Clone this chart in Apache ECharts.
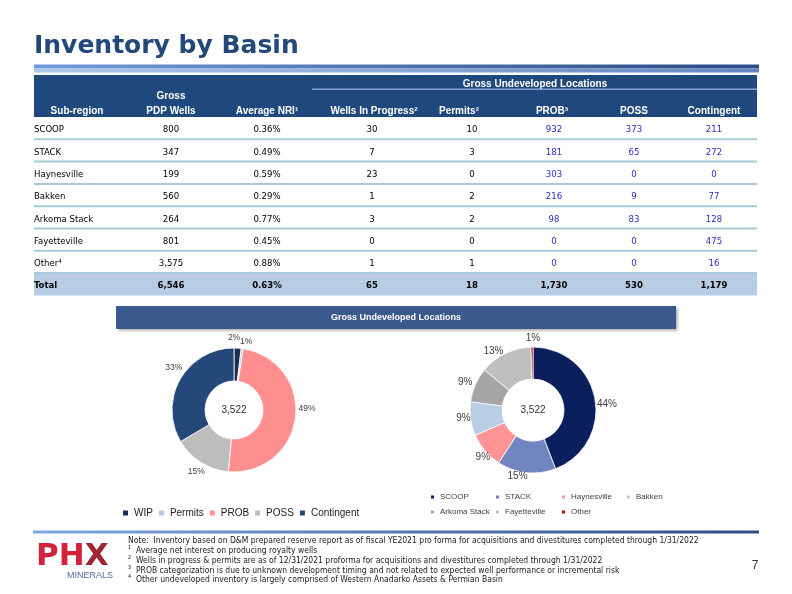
<!DOCTYPE html>
<html><head><meta charset="utf-8">
<script src="https://cdn.jsdelivr.net/npm/echarts@6/dist/echarts.min.js"></script>
<style>html,body{margin:0;padding:0;background:#fff}#c{width:792px;height:594px}</style>
</head><body><div id="c"></div><script>
// ---------------- DATA ----------------
const subRegions = ['SCOOP', 'STACK', 'Haynesville', 'Bakken', 'Arkoma Stack', 'Fayetteville', 'Other⁴'];
const pdpWells   = [800, 347, 199, 560, 264, 801, 3575];
const avgNri     = [0.36, 0.49, 0.59, 0.29, 0.77, 0.45, 0.88];
const wip        = [30, 7, 23, 1, 3, 0, 1];
const permits    = [10, 3, 0, 2, 2, 0, 1];
const prob       = [932, 181, 303, 216, 98, 0, 0];
const poss       = [373, 65, 0, 9, 83, 0, 0];
const contingent = [211, 272, 0, 77, 128, 475, 16];
const totalsRow  = [6546, 0.63, 65, 18, 1730, 530, 1179];

const headerLabels = ['Sub-region', 'PDP Wells', 'Average NRI¹', 'Wells In Progress²', 'Permits²', 'PROB³', 'POSS', 'Contingent'];

const typeNames  = ['WIP', 'Permits', 'PROB', 'POSS', 'Contingent'];
const typeValues = [65, 18, 1730, 530, 1179];

const basinNames  = ['SCOOP', 'STACK', 'Haynesville', 'Bakken', 'Arkoma Stack', 'Fayetteville', 'Other'];
const basinValues = [1556, 528, 326, 305, 314, 475, 18];

const notes = [
  ['', 'Note:  Inventory based on D&M prepared reserve report as of fiscal YE2021 pro forma for acquisitions and divestitures completed through 1/31/2022'],
  ['¹', 'Average net interest on producing royalty wells'],
  ['²', 'Wells in progress & permits are as of 12/31/2021 proforma for acquisitions and divestitures completed through 1/31/2022'],
  ['³', 'PROB categorization is due to unknown development timing and not related to expected well performance or incremental risk'],
  ['⁴', 'Other undeveloped inventory is largely comprised of Western Anadarko Assets & Permian Basin']
];

// ---------------- STYLE / LAYOUT ----------------
const typeColors  = ['#1B2E52', '#B4C7E7', '#FF8F8F', '#BDBDBD', '#24487A'];
const basinColors = ['#0B1F5C', '#7185C1', '#FF9494', '#B9CDE5', '#A6A6A6', '#BFBFBF', '#C00000'];

const ARIAL = '"Liberation Sans", Arial, sans-serif';
const TAHOMA = '"DejaVu Sans Condensed", "DejaVu Sans", sans-serif';
const VERDANA = '"DejaVu Sans", Verdana, sans-serif';

const colX = [34, 171, 267, 372, 472, 554, 634, 714];
const headX = [77, 171, 267, 374, 459, 552, 634, 714];
const rowTop = 117, rowH = 22.3;

const leftPie  = {cx: 234, cy: 410, r0: 29, r: 62, gap: 3, font: 8.5,
  nudge: [[-4, -3], [3, 1], [0, -10], [0, 2], [4, -6]]};
const rightPie = {cx: 533, cy: 410, r0: 31, r: 63, gap: 3, font: 10,
  nudge: [[-1, 8], [-8, -4], [6, 0], [3, -2], [0, 2], [-8, 6], [1, -1]]};

function fmt(n) { return String(n).replace(/\B(?=(\d{3})+(?!\d))/g, ','); }
function pct(n) { return n.toFixed(2) + '%'; }

const G = [];
function T(x, y, text, o) {
  o = o || {};
  G.push({type: 'text', x: x, y: y, z: 10, silent: true, style: {
    text: text, fill: o.fill || '#000', fontSize: o.size || 10, fontFamily: o.family || ARIAL,
    fontWeight: o.weight || 'normal', align: o.align || 'center', verticalAlign: 'middle', rich: o.rich
  }});
}
function R(x, y, w, h, fill, extra) {
  G.push(Object.assign({type: 'rect', silent: true, shape: {x: x, y: y, width: w, height: h}, style: Object.assign({fill: fill}, extra || {})}));
}
function grad(c0, c1) { return new echarts.graphic.LinearGradient(0, 0, 1, 0, [{offset: 0, color: c0}, {offset: 1, color: c1}]); }

// Title
T(34, 46, 'Inventory by Basin', {size: 25, family: VERDANA, weight: 'bold', fill: '#23487A', align: 'left'});
// top decorative bar
R(34, 64.5, 725, 4, grad('#6E9CDD', '#2A4B83'));
R(34, 68.5, 725, 4, grad('#AFC9EC', '#6286C2'));
// header box
R(34, 75, 723, 42, '#1F497C');
R(312, 88.5, 445, 1.6, '#86A4D3');
T(535, 84, 'Gross Undeveloped Locations', {size: 10, weight: 'bold', fill: '#fff'});
T(headX[1], 96, 'Gross', {size: 10, weight: 'bold', fill: '#fff'});
headerLabels.forEach(function (h, i) {
  T(headX[i], 111, h, {size: 10, weight: 'bold', fill: '#fff'});
});
// body rows
const blue = '#2C2CC2';
subRegions.forEach(function (s, i) {
  const yc = rowTop + rowH * i + 13;
  T(colX[0], yc, s, {family: TAHOMA, size: 9.5, align: 'left'});
  T(colX[1], yc, fmt(pdpWells[i]), {family: TAHOMA, size: 9.5});
  T(colX[2], yc, pct(avgNri[i]), {family: TAHOMA, size: 9.5});
  T(colX[3], yc, fmt(wip[i]), {family: TAHOMA, size: 9.5});
  T(colX[4], yc, fmt(permits[i]), {family: TAHOMA, size: 9.5});
  T(colX[5], yc, fmt(prob[i]), {family: TAHOMA, size: 9.5, fill: blue});
  T(colX[6], yc, fmt(poss[i]), {family: TAHOMA, size: 9.5, fill: blue});
  T(colX[7], yc, fmt(contingent[i]), {family: TAHOMA, size: 9.5, fill: blue});
  R(34, rowTop + rowH * (i + 1) - 1, 723, 2, '#A6CAD9');
});
// total row
const totY = rowTop + rowH * 7;
R(34, totY + 1, 723, 21.5, '#B8CCE4');
const ty = totY + 12;
T(colX[0], ty, 'Total', {family: TAHOMA, size: 9.5, weight: 'bold', align: 'left'});
T(colX[1], ty, fmt(totalsRow[0]), {family: TAHOMA, size: 9.5, weight: 'bold'});
T(colX[2], ty, pct(totalsRow[1]), {family: TAHOMA, size: 9.5, weight: 'bold'});
for (let k = 2; k < 7; k++) T(colX[k + 1], ty, fmt(totalsRow[k]), {family: TAHOMA, size: 9.5, weight: 'bold'});

// banner
R(116, 306, 560, 23, '#3A5A8B', {shadowBlur: 3, shadowOffsetX: 1.5, shadowOffsetY: 1.5, shadowColor: 'rgba(0,0,0,0.35)'});
T(396, 317.5, 'Gross Undeveloped Locations', {size: 9, weight: 'bold', fill: '#fff'});

// donut centre labels
function sum(a) { return a.reduce(function (s, v) { return s + v; }, 0); }
T(leftPie.cx, leftPie.cy, fmt(sum(typeValues)), {size: 10, fill: '#333'});
T(rightPie.cx, rightPie.cy, fmt(sum(basinValues)), {size: 10, fill: '#333'});

// footer bar
R(33, 530.5, 726, 3, grad('#7FA8E0', '#2B4C80'));
// logo
G.push({type: 'text', x: 36, y: 557, z: 10, silent: true, style: {
  text: '{a|PH}{b|X}', align: 'left', verticalAlign: 'middle',
  rich: {a: {fontSize: 31, fontWeight: 'bold', fontFamily: VERDANA, fill: '#D3223C', color: '#D3223C'},
         b: {fontSize: 31, fontWeight: 'bold', fontFamily: VERDANA, fill: '#9E2632', color: '#9E2632'}}
}});
T(113, 575.5, 'MINERALS', {size: 9, fill: '#4E6E9F', align: 'right'});
// notes
const noteY = [541, 551, 561, 570.5, 580];
const noteSize = 8.5;
notes.forEach(function (n, i) {
  if (n[0]) {
    T(128, noteY[i] - 1, n[0], {family: TAHOMA, size: noteSize, fill: '#222', align: 'left'});
    T(136, noteY[i], n[1], {family: TAHOMA, size: noteSize, fill: '#222', align: 'left'});
  } else {
    T(128, noteY[i], n[1], {family: TAHOMA, size: noteSize, fill: '#222', align: 'left'});
  }
});
T(755, 566, '7', {size: 12, fill: '#333'});

// ---------------- PIES ----------------
function labelPlacer(values, P) {
  const total = sum(values);
  const starts = [];
  let acc = 0;
  values.forEach(function (v) { starts.push(acc); acc += v; });
  return function (params) {
    const i = params.dataIndex;
    const mid = (starts[i] + values[i] / 2) / total * Math.PI * 2;
    const dx = Math.sin(mid), dy = -Math.cos(mid);
    const w = params.labelRect.width, h = params.labelRect.height;
    const ext = Math.min(w / 2 / Math.max(Math.abs(dx), 1e-6), h / 2 / Math.max(Math.abs(dy), 1e-6));
    const d = P.r + P.gap + ext;
    const n = P.nudge[i] || [0, 0];
    return {x: P.cx + d * dx + n[0], y: P.cy + d * dy + n[1], align: 'center', verticalAlign: 'middle'};
  };
}
function pieSeries(names, values, colors, P) {
  return {
    type: 'pie', center: [P.cx, P.cy], radius: [P.r0, P.r], startAngle: 90, clockwise: true,
    avoidLabelOverlap: false, percentPrecision: 0, silent: true,
    itemStyle: {borderColor: '#fff', borderWidth: 0.8},
    label: {show: true, position: 'outside', formatter: '{d}%', fontSize: P.font, fontFamily: ARIAL, color: '#404040'},
    labelLine: {show: false, length: 0, length2: 0},
    labelLayout: labelPlacer(values, P),
    emphasis: {disabled: true},
    data: names.map(function (n, i) { return {name: n, value: values[i], itemStyle: {color: colors[i]}}; })
  };
}

const rightLegendCols = [[0, 4], [1, 5], [2, 6], [3]];
const rightLegendLeft = [424, 489, 555, 620];
const legends = [{
  left: 116, top: 502, orient: 'horizontal', icon: 'rect', itemWidth: 7, itemHeight: 7, itemGap: 4,
  selectedMode: false, textStyle: {fontSize: 10, fontFamily: ARIAL, color: '#222', lineHeight: 12},
  data: typeNames
}];
rightLegendCols.forEach(function (col, c) {
  legends.push({
    left: rightLegendLeft[c], top: 487, orient: 'vertical', icon: 'rect', itemWidth: 5, itemHeight: 5, itemGap: 5,
    selectedMode: false, textStyle: {fontSize: 8, fontFamily: ARIAL, color: '#404040', lineHeight: 10},
    data: col.map(function (k) { return basinNames[k]; })
  });
});

const chart = echarts.init(document.getElementById('c'), null, {renderer: 'canvas'});
chart.setOption({
  animation: false,
  backgroundColor: '#fff',
  legend: legends,
  graphic: {elements: G},
  series: [
    pieSeries(typeNames, typeValues, typeColors, leftPie),
    pieSeries(basinNames, basinValues, basinColors, rightPie)
  ]
});
</script></body></html>
